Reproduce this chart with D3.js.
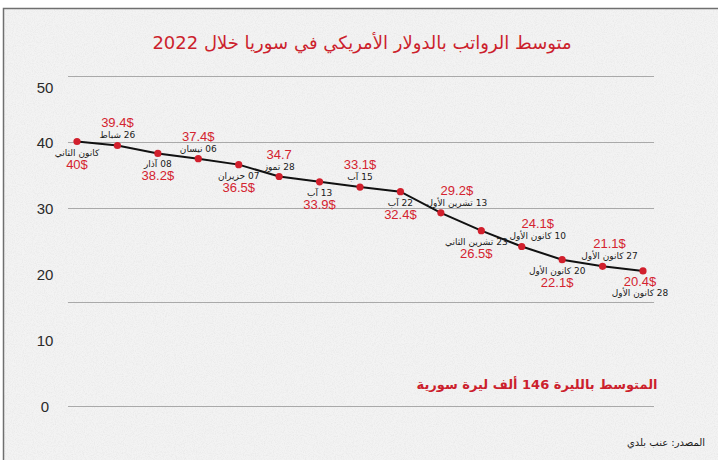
<!DOCTYPE html>
<html>
<head>
<meta charset="utf-8">
<script src="https://cdn.jsdelivr.net/npm/d3@7"></script>
<style>
  body { margin: 0; background: #fff; }
  svg { display: block; }
</style>
</head>
<body>
<script>
// chart data
var dates = ["كانون الثاني", "26 شباط", "08 آذار", "06 نيسان", "07 حزيران", "28 تموز", "13 آب",
  "15 آب", "22 آب", "13 تشرين الأول", "23 تشرين الثاني", "10 كانون الأول", "20 كانون الأول",
  "27 كانون الأول", "28 كانون الأول"];
var values = [40, 39.4, 38.2, 37.4, 36.5, 34.7, 33.9, 33.1, 32.4, 29.2, 26.5, 24.1, 22.1, 21.1, 20.4];
var valueLabels = ["40$", "39.4$", "38.2$", "37.4$", "36.5$", "34.7", "33.9$", "33.1$", "32.4$",
  "29.2$", "26.5$", "24.1$", "22.1$", "21.1$", "20.4$"];
var yTicks = [0, 10, 20, 30, 40, 50];
var gridValues = [0, 15.7, 30, 40, 50];

var titleText = "متوسط الرواتب بالدولار الأمريكي في سوريا خلال 2022";
var noteText = "المتوسط بالليرة 146 ألف ليرة سورية";
var sourceText = "المصدر: عنب بلدي";

window.onload = function(){
  var w = 718, h = 460;
  var red = "#cc1f2d";
  var arabic = "'DejaVu Sans', sans-serif";
  var latin = "'Liberation Sans', Arial, sans-serif";

  var svg = d3.select("body").append("svg")
    .attr("width", w)
    .attr("height", h);

  // paper texture
  var defs = svg.append("defs");
  var f = defs.append("filter").attr("id", "paper")
    .attr("x", 0).attr("y", 0).attr("width", "100%").attr("height", "100%");
  f.append("feTurbulence").attr("type", "fractalNoise")
    .attr("baseFrequency", 0.9).attr("numOctaves", 3).attr("seed", 4);
  f.append("feColorMatrix").attr("type", "matrix")
    .attr("values", "0 0 0 0 0.45  0 0 0 0 0.45  0 0 0 0 0.45  0 0 0 -0.9 0.55");

  svg.append("rect")
    .attr("x", 3).attr("y", 8)
    .attr("width", w - 3).attr("height", h - 8)
    .style("fill", "#f3f3f3");
  svg.append("rect")
    .attr("x", 3).attr("y", 8)
    .attr("width", w - 3).attr("height", h - 8)
    .attr("filter", "url(#paper)")
    .style("opacity", 0.35);

  // card border (top and left)
  svg.append("path")
    .attr("d", "M3.5," + h + "V8.5H" + w)
    .style("fill", "none")
    .style("stroke", "#6f6f6f")
    .style("stroke-width", 1.5);

  var x = d3.scalePoint()
    .domain(d3.range(values.length))
    .range([77, 643]);

  var y = d3.scaleLinear()
    .domain([0, 50])
    .range([405.6, 75.5]);

  // gridlines
  svg.append("g").selectAll("line")
    .data(gridValues)
    .enter().append("line")
    .attr("x1", 68).attr("x2", 654)
    .attr("y1", function(d){ return Math.round(y(d)) + 0.5; })
    .attr("y2", function(d){ return Math.round(y(d)) + 0.5; })
    .style("stroke", "#a9a9a9")
    .style("stroke-width", 1);

  // y axis labels
  var yAxis = d3.axisLeft(y).tickValues(yTicks).tickSize(0).tickPadding(0);
  var ax = svg.append("g")
    .attr("transform", "translate(53,0)")
    .call(yAxis);
  ax.select(".domain").remove();
  ax.selectAll("text")
    .attr("text-anchor", "middle")
    .attr("x", -8)
    .attr("dy", function(d){ return d === 50 ? "1.1em" : "0.4em"; })
    .style("font-family", latin)
    .style("font-size", "15px")
    .style("fill", "#2a2a2a");

  // line
  var line = d3.line()
    .x(function(d, i){ return x(i); })
    .y(function(d){ return y(d); });

  svg.append("path")
    .datum(values)
    .attr("d", line)
    .style("fill", "none")
    .style("stroke", "#111")
    .style("stroke-width", 2);

  svg.append("g").selectAll("circle")
    .data(values)
    .enter().append("circle")
    .attr("cx", function(d, i){ return x(i); })
    .attr("cy", function(d){ return y(d); })
    .attr("r", 3.6)
    .style("fill", "#d11f2c");

  // labels: odd points above, even points below, last one value first
  var n = values.length;
  var nudge = {9: 16, 10: -5, 11: 16, 12: -5, 13: 7, 14: -3};
  function dx(i){ return nudge[i] || 0; }
  function dateOff(i){
    if (i === n - 1) return 25;
    return i % 2 === 1 ? -7 : 14;
  }
  function valOff(i){
    if (i === n - 1) return 15;
    return i % 2 === 1 ? -18 : 27;
  }

  svg.append("g").selectAll("text")
    .data(dates)
    .enter().append("text")
    .attr("x", function(d, i){ return x(i) + dx(i); })
    .attr("y", function(d, i){ return y(values[i]) + dateOff(i); })
    .attr("text-anchor", "middle")
    .attr("direction", "rtl")
    .style("font-family", arabic)
    .style("font-size", "9px")
    .style("fill", "#1a1a1a")
    .text(function(d){ return d; });

  svg.append("g").selectAll("text")
    .data(valueLabels)
    .enter().append("text")
    .attr("x", function(d, i){ return x(i) + dx(i); })
    .attr("y", function(d, i){ return y(values[i]) + valOff(i); })
    .attr("text-anchor", "middle")
    .style("font-family", latin)
    .style("font-size", "13px")
    .style("fill", "#d4232f")
    .text(function(d){ return d; });

  // title, note, source
  svg.append("text")
    .attr("x", 362).attr("y", 49)
    .attr("text-anchor", "middle")
    .attr("direction", "rtl")
    .style("font-family", arabic)
    .style("font-size", "18px")
    .style("fill", red)
    .text(titleText);

  svg.append("text")
    .attr("x", 537).attr("y", 389)
    .attr("text-anchor", "middle")
    .attr("direction", "rtl")
    .style("font-family", arabic)
    .style("font-size", "13px")
    .style("font-weight", "bold")
    .style("fill", red)
    .text(noteText);

  svg.append("text")
    .attr("x", 666).attr("y", 446)
    .attr("text-anchor", "middle")
    .attr("direction", "rtl")
    .style("font-family", arabic)
    .style("font-size", "10px")
    .style("fill", "#1a1a1a")
    .text(sourceText);
};
</script>
</body>
</html>
